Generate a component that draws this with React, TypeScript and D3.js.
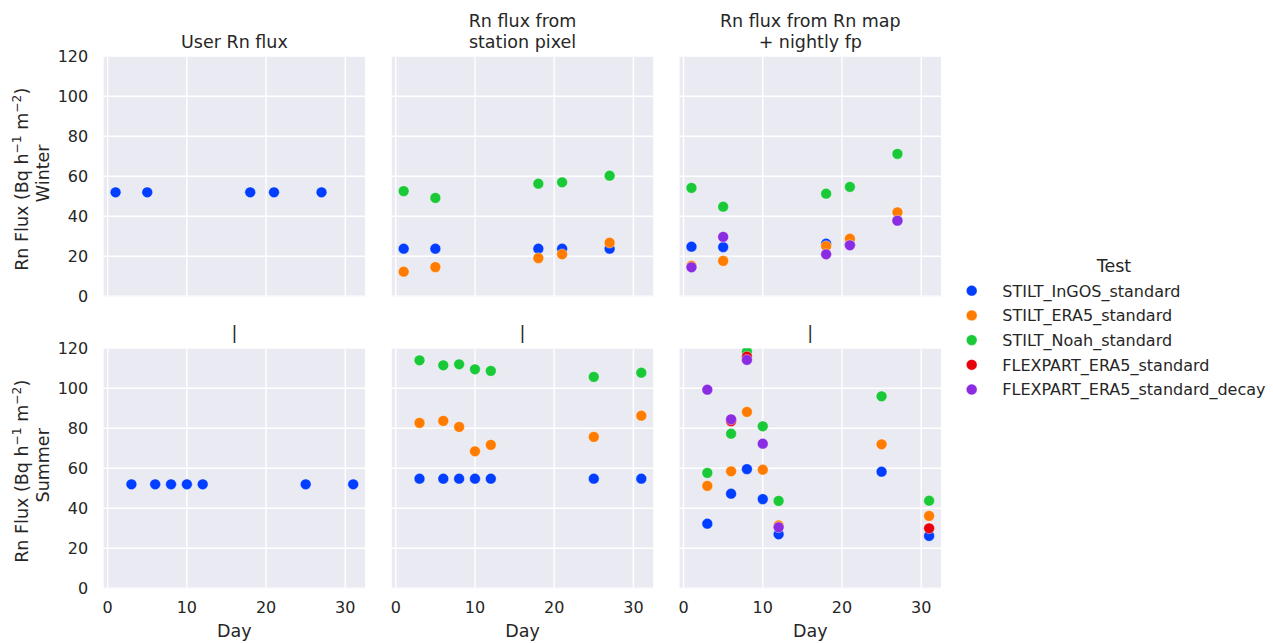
import React from "react";
import * as d3 from "d3";

// Facet columns (flux source) and rows (season)
const panelTitles: string[][] = [
  ["User Rn flux"],
  ["Rn flux from", "station pixel"],
  ["Rn flux from Rn map", "+ nightly fp"],
];
const seasons = ["Winter", "Summer"];

const tests = [
  "STILT_InGOS_standard",
  "STILT_ERA5_standard",
  "STILT_Noah_standard",
  "FLEXPART_ERA5_standard",
  "FLEXPART_ERA5_standard_decay",
];
const testColors = ["#023eff", "#ff7c00", "#1ac938", "#e8000b", "#8b2be2"];

const winterDays = [1, 5, 18, 21, 27];
const summerDays = [3, 6, 8, 10, 12, 25, 31];

const xTicks = [0, 10, 20, 30];
const yTicks = [0, 20, 40, 60, 80, 100, 120];

type V = number | null;

// User Rn flux
const userWinterInGOS: V[] = [52, 52, 52, 52, 52];
const userSummerInGOS: V[] = [52, 52, 52, 52, 52, 52, 52];

// Rn flux from station pixel
const pixelWinterInGOS: V[] = [23.8, 23.8, 23.8, 23.8, 23.8];
const pixelWinterERA5: V[] = [12.3, 14.6, 19.1, 21.0, 26.8];
const pixelWinterNoah: V[] = [52.6, 49.2, 56.3, 57.0, 60.3];
const pixelSummerInGOS: V[] = [54.8, 54.8, 54.8, 54.8, 54.8, 54.8, 54.8];
const pixelSummerERA5: V[] = [82.7, 83.7, 80.7, 68.5, 71.7, 75.7, 86.3];
const pixelSummerNoah: V[] = [114.0, 111.5, 112.0, 109.5, 108.7, 105.7, 107.8];

// Rn flux from Rn map + nightly footprint
const mapWinterInGOS: V[] = [24.8, 24.6, 26.3, 26.0, 38.0];
const mapWinterERA5: V[] = [15.3, 17.7, 25.1, 28.8, 42.0];
const mapWinterNoah: V[] = [54.2, 44.8, 51.3, 54.7, 71.2];
const mapWinterDecay: V[] = [14.5, 29.7, 21.0, 25.5, 37.8];
const mapSummerInGOS: V[] = [32.3, 47.3, 59.6, 44.6, 27.0, 58.3, 26.2];
const mapSummerERA5: V[] = [51.2, 58.5, 88.2, 59.3, 31.4, 72.0, 36.2];
const mapSummerNoah: V[] = [57.7, 77.3, 118.3, 81.0, 43.7, 96.0, 43.8];
const mapSummerFlexpart: V[] = [null, 83.6, 115.8, null, null, null, 30.0];
const mapSummerDecay: V[] = [99.3, 84.5, 114.2, 72.3, 30.5, null, null];

type Series = { test: number; values: V[] };

// grid[row][col] -> list of series
const facetData: Series[][][] = [
  [
    [{ test: 0, values: userWinterInGOS }],
    [
      { test: 0, values: pixelWinterInGOS },
      { test: 1, values: pixelWinterERA5 },
      { test: 2, values: pixelWinterNoah },
    ],
    [
      { test: 0, values: mapWinterInGOS },
      { test: 1, values: mapWinterERA5 },
      { test: 2, values: mapWinterNoah },
      { test: 4, values: mapWinterDecay },
    ],
  ],
  [
    [{ test: 0, values: userSummerInGOS }],
    [
      { test: 0, values: pixelSummerInGOS },
      { test: 1, values: pixelSummerERA5 },
      { test: 2, values: pixelSummerNoah },
    ],
    [
      { test: 0, values: mapSummerInGOS },
      { test: 1, values: mapSummerERA5 },
      { test: 2, values: mapSummerNoah },
      { test: 3, values: mapSummerFlexpart },
      { test: 4, values: mapSummerDecay },
    ],
  ],
];
const rowDays = [winterDays, summerDays];

const FONT = "'DejaVu Sans', sans-serif";
const TEXT = "#262626";
const BG = "#eaeaf2";

const W = 1273;
const H = 643;
const panelLefts = [103.7, 391.8, 679.6];
const panelTops = [56.3, 348.3];
const PW = 261.4;
const PH = 240;
const R = 5.4;

function YLabel({ cx, cy, season }: { cx: number; cy: number; season: string }) {
  return (
    <g fontFamily={FONT} fontSize={17.5} fill={TEXT}>
      <text transform={`translate(${cx},${cy + 3}) rotate(-90)`} textAnchor="middle">
        <tspan>Rn Flux (Bq h</tspan>
        <tspan fontSize={12.3} dy={-7}>−1</tspan>
        <tspan dy={7}> m</tspan>
        <tspan fontSize={12.3} dy={-7}>−2</tspan>
        <tspan dy={7}>)</tspan>
      </text>
      <text transform={`translate(${cx + 21},${cy - 3}) rotate(-90)`} textAnchor="middle">
        {season}
      </text>
    </g>
  );
}

function Panel({ row, col }: { row: number; col: number }) {
  const left = panelLefts[col];
  const top = panelTops[row];
  const x = d3.scaleLinear().domain([-0.5, 32.5]).range([left, left + PW]);
  const y = d3.scaleLinear().domain([0, 120]).range([top + PH, top]);
  const clipId = `clip-${row}-${col}`;
  const days = rowDays[row];
  const cx = left + PW / 2;

  const title =
    row === 0 ? (
      <text textAnchor="middle" fontFamily={FONT} fontSize={17.5} fill={TEXT}>
        {panelTitles[col].map((line, i, arr) => (
          <tspan key={i} x={cx} y={top - 8 - (arr.length - 1 - i) * 21}>
            {line}
          </tspan>
        ))}
      </text>
    ) : (
      <text x={cx} y={top - 9} textAnchor="middle" fontFamily={FONT} fontSize={17.5} fill={TEXT}>
        |
      </text>
    );

  return (
    <g>
      <defs>
        <clipPath id={clipId}>
          <rect x={left} y={top} width={PW} height={PH} />
        </clipPath>
      </defs>
      <rect x={left} y={top} width={PW} height={PH} fill={BG} />
      <g clipPath={`url(#${clipId})`}>
        {yTicks.map((t) => (
          <line key={`gy${t}`} x1={left} x2={left + PW} y1={y(t)} y2={y(t)} stroke="#fff" strokeWidth={1.4} />
        ))}
        {xTicks.map((t) => (
          <line key={`gx${t}`} x1={x(t)} x2={x(t)} y1={top} y2={top + PH} stroke="#fff" strokeWidth={1.4} />
        ))}
        {facetData[row][col].map((s) =>
          s.values.map((v, i) =>
            v == null ? null : (
              <circle
                key={`${s.test}-${i}`}
                cx={x(days[i])}
                cy={y(v)}
                r={R}
                fill={testColors[s.test]}
                stroke="#fff"
                strokeWidth={0.4}
              />
            )
          )
        )}
      </g>
      {title}
      {col === 0 &&
        yTicks.map((t) => (
          <text
            key={`yt${t}`}
            x={left - 15.5}
            y={y(t) + 5.8}
            textAnchor="end"
            fontFamily={FONT}
            fontSize={16}
            fill={TEXT}
          >
            {t}
          </text>
        ))}
      {row === 1 &&
        xTicks.map((t) => (
          <text
            key={`xt${t}`}
            x={x(t)}
            y={top + PH + 25}
            textAnchor="middle"
            fontFamily={FONT}
            fontSize={16}
            fill={TEXT}
          >
            {t}
          </text>
        ))}
      {row === 1 && (
        <text x={cx} y={top + PH + 48.5} textAnchor="middle" fontFamily={FONT} fontSize={17.5} fill={TEXT}>
          Day
        </text>
      )}
      {col === 0 && <YLabel cx={27.5} cy={top + PH / 2} season={seasons[row]} />}
    </g>
  );
}

function Legend() {
  const y0 = 290.7;
  const step = 24.7;
  return (
    <g fontFamily={FONT} fill={TEXT}>
      <text x={1114} y={271.5} textAnchor="middle" fontSize={17.5}>
        Test
      </text>
      {tests.map((t, i) => (
        <g key={t}>
          <circle cx={971.7} cy={y0 + i * step} r={R} fill={testColors[i]} stroke="#fff" strokeWidth={0.4} />
          <text x={1002.3} y={y0 + i * step + 5.8} fontSize={16}>
            {t}
          </text>
        </g>
      ))}
    </g>
  );
}

export default function App() {
  return (
    <svg
      width={W}
      height={H}
      viewBox={`0 0 ${W} ${H}`}
      style={{ position: "absolute", left: 0, top: 0, background: "#fff" }}
    >
      {[0, 1].map((row) =>
        [0, 1, 2].map((col) => <Panel key={`${row}-${col}`} row={row} col={col} />)
      )}
      <Legend />
    </svg>
  );
}
